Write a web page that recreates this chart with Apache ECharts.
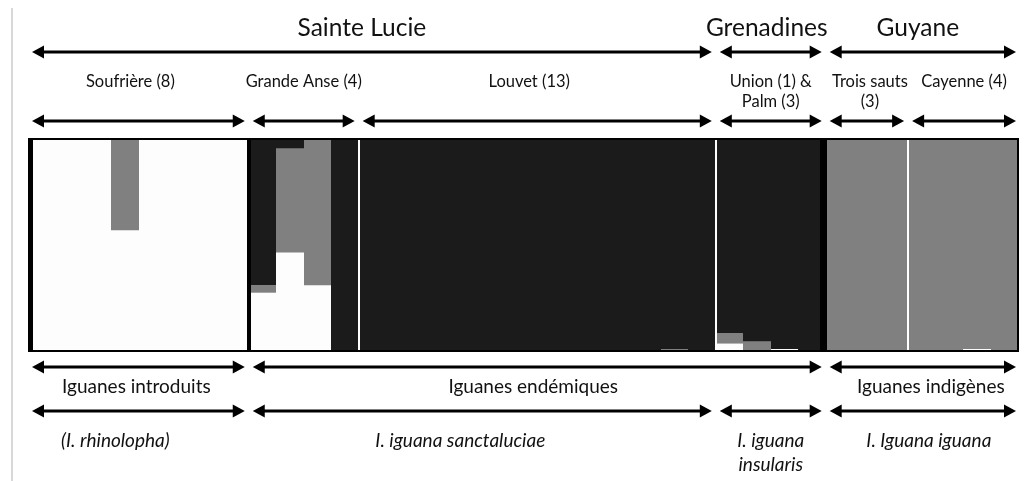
<!DOCTYPE html>
<html><head><meta charset="utf-8">
<script src="https://cdn.jsdelivr.net/npm/echarts@6/dist/echarts.min.js"></script>
<style>html,body{margin:0;padding:0;background:#fff}#c{width:1033px;height:481px}</style>
</head><body><div id="c"></div>
<script>
// ---- data ----
const populations = ['Soufrière (8)', 'Grande Anse (4)', 'Louvet (13)', 'Union (1) &\nPalm (3)', 'Trois sauts\n(3)', 'Cayenne (4)'];
const popSizes = [8, 4, 13, 4, 3, 4];
// cluster membership per individual (36 individuals), bottom -> top: introduced, indigenous, endemic
const introduced = [1, 1, 1, 0.57, 1, 1, 1, 1,
  0.275, 0.465, 0.31, 0,
  0, 0, 0, 0, 0, 0, 0, 0, 0, 0, 0, 0, 0,
  0.035, 0, 0.01, 0,
  0, 0, 0,
  0, 0, 0.01, 0];
const indigenous = [0, 0, 0, 0.43, 0, 0, 0, 0,
  0.035, 0.49, 0.69, 0,
  0, 0, 0, 0, 0, 0, 0, 0, 0, 0, 0, 0.01, 0,
  0.05, 0.045, 0, 0,
  1, 1, 1,
  1, 1, 0.99, 1];
const endemic = [0, 0, 0, 0, 0, 0, 0, 0,
  0.69, 0.045, 0, 1,
  1, 1, 1, 1, 1, 1, 1, 1, 1, 1, 1, 0.99, 1,
  0.915, 0.955, 0.99, 1,
  0, 0, 0,
  0, 0, 0, 0];
const regions = ['Sainte Lucie', 'Grenadines', 'Guyane'];
const regionSpans = [[0, 3], [3, 4], [4, 6]];
const statusLabels = ['Iguanes introduits', 'Iguanes endémiques', 'Iguanes indigènes'];
const statusSpans = [[0, 1], [1, 4], [4, 6]];
const taxonLabels = ['(I. rhinolopha)', 'I. iguana sanctaluciae', 'I. iguana\ninsularis', 'I. Iguana iguana'];
const taxonSpans = [[0, 1], [1, 3], [3, 4], [4, 6]];

// ---- label nudges (layout only, px) ----
const regionDx = [-10, -4, -5];
const popDx = [-8, 0, -8, 0, 3, 0];
const statusDx = [-2, -4, 8];
const taxonDx = [-23, -22, 0, 6];

// ---- build ----
const N = introduced.length;
const bounds = [0];
popSizes.forEach(s => bounds.push(bounds[bounds.length - 1] + s));

function makeSeries(name, color, values, base) {
  const data = values.map((v, i) => [i, base[i], base[i] + v]);
  return {
    type: 'custom', name, silent: true, data,
    encode: { x: 0, y: [1, 2] },
    renderItem: (params, api) => {
      const i = api.value(0), y0 = api.value(1), y1 = api.value(2);
      if (y1 - y0 <= 0) return null;
      const p0 = api.coord([i, y0]), p1 = api.coord([i + 1, y1]);
      const x0 = Math.round(p0[0]), x1 = Math.round(p1[0]);
      return { type: 'rect', shape: { x: x0, y: p1[1], width: x1 - x0, height: p0[1] - p1[1] }, style: { fill: color } };
    }
  };
}
const zero = introduced.map(() => 0);
const base2 = introduced.map(v => v);
const base3 = introduced.map((v, i) => v + indigenous[i]);

const sWhite = makeSeries('introduced', '#fdfdfd', introduced, zero);
const sGrey = makeSeries('indigenous', '#808080', indigenous, base2);
const sDark = makeSeries('endemic', '#1b1b1b', endemic, base3);
sDark.markLine = {
  silent: true, symbol: 'none', label: { show: false }, animation: false,
  data: [
    { xAxis: bounds[0] + 0.05, lineStyle: { color: '#000', width: 5, type: 'solid' } },
    { xAxis: bounds[1], lineStyle: { color: '#000', width: 4, type: 'solid' } },
    { xAxis: bounds[2], lineStyle: { color: '#fff', width: 2, type: 'solid' } },
    { xAxis: bounds[3], lineStyle: { color: '#fff', width: 2, type: 'solid' } },
    { xAxis: bounds[4] - 0.1, lineStyle: { color: '#000', width: 7, type: 'solid' } },
    { xAxis: bounds[5], lineStyle: { color: '#fff', width: 2, type: 'solid' } }
  ]
};

const G = { left: 29, top: 139, width: 989, height: 212 };
const chart = echarts.init(document.getElementById('c'), null, { renderer: 'canvas' });
chart.setOption({
  animation: false,
  backgroundColor: '#fff',
  grid: G,
  xAxis: { type: 'value', min: 0, max: N, show: false },
  yAxis: { type: 'value', min: 0, max: 1, show: false },
  series: [sWhite, sGrey, sDark]
});

const FONT = 'Lato, "Open Sans", sans-serif';
const px = v => chart.convertToPixel({ xAxisIndex: 0 }, v);
const g = [];
function arrow(x1, x2, y) {
  const h = 12, w = 6.5;
  g.push({ type: 'line', shape: { x1: x1 + 6, y1: y, x2: x2 - 6, y2: y }, style: { stroke: '#000', lineWidth: 3 }, z: 100 });
  g.push({ type: 'polygon', shape: { points: [[x1, y], [x1 + h, y - w], [x1 + h, y + w]] }, style: { fill: '#000' }, z: 100 });
  g.push({ type: 'polygon', shape: { points: [[x2, y], [x2 - h, y - w], [x2 - h, y + w]] }, style: { fill: '#000' }, z: 100 });
}
function label(text, x, y, size, italic, lh, va) {
  g.push({ type: 'text', z: 100, style: {
    text, x, y, fill: '#111', align: 'center', verticalAlign: va || 'middle',
    fontFamily: FONT, fontSize: size, fontStyle: italic ? 'italic' : 'normal', lineHeight: lh || size * 1.2
  }});
}
function spanPx(a, b) {
  const x1 = a === 0 ? px(bounds[0]) + 3 : px(bounds[a]) + 4;
  const x2 = b === popSizes.length ? px(bounds[b]) - 2 : px(bounds[b]) - 4;
  return [x1, x2];
}
regions.forEach((t, k) => {
  const [x1, x2] = spanPx(regionSpans[k][0], regionSpans[k][1]);
  arrow(x1, x2, 52);
  label(t, (x1 + x2) / 2 + regionDx[k], 28, 24.5, false);
});
populations.forEach((t, k) => {
  const [x1, x2] = spanPx(k, k + 1);
  arrow(x1, x2, 121);
  label(t, (x1 + x2) / 2 + popDx[k], 72, 16.5, false, 20, 'top');
});
statusLabels.forEach((t, k) => {
  const [x1, x2] = spanPx(statusSpans[k][0], statusSpans[k][1]);
  arrow(x1, x2, 367);
  label(t, (x1 + x2) / 2 + statusDx[k], 387, 19, false);
});
taxonLabels.forEach((t, k) => {
  const [x1, x2] = spanPx(taxonSpans[k][0], taxonSpans[k][1]);
  arrow(x1, x2, 411);
  label(t, (x1 + x2) / 2 + taxonDx[k], 429, 19, true, 24, 'top');
});
// plot frame
g.push({ type: 'rect', z: 99, shape: { x: G.left, y: G.top, width: G.width, height: G.height }, style: { fill: 'none', stroke: '#000', lineWidth: 2 } });
// faint page edge
g.push({ type: 'line', z: 1, shape: { x1: 12, y1: 8, x2: 12, y2: 481 }, style: { stroke: '#d8d8d8', lineWidth: 2 } });
chart.setOption({ graphic: g });
</script></body></html>
